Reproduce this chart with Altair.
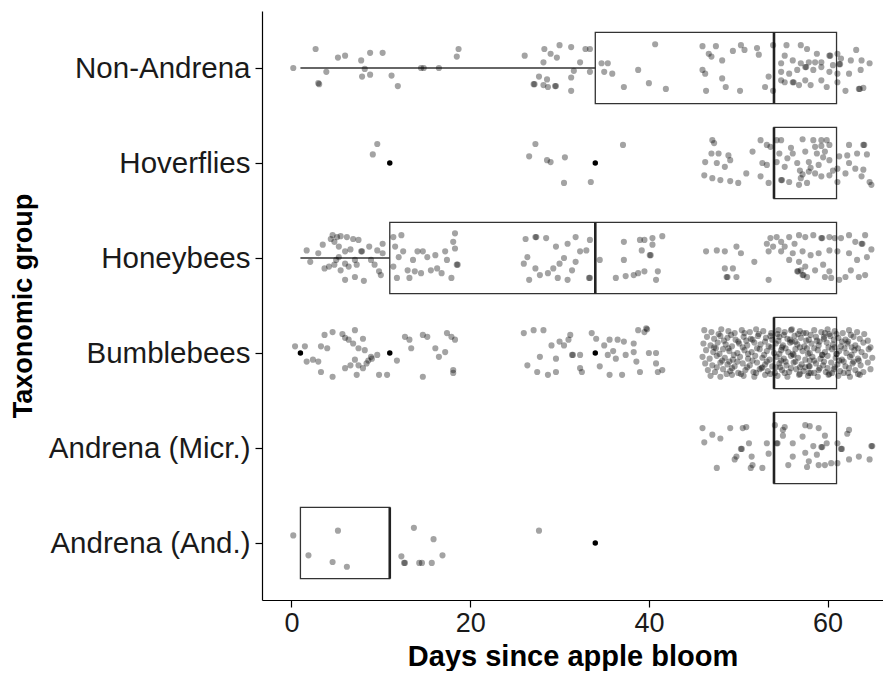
import altair as alt
import pandas as pd

# categories, bottom to top
groups = ["Andrena (And.)", "Andrena (Micr.)", "Bumblebees", "Honeybees", "Hoverflies", "Non-Andrena"]

# boxplot summaries (days since apple bloom)
box_lower = [1, 54, 54, 1, 54, 1]
box_q1 = [1, 54, 54, 11, 54, 34]
box_median = [11, 54, 54, 34, 54, 54]
box_q3 = [11, 61, 61, 61, 61, 61]
box_upper = [11, 61, 61, 61, 61, 61]

# outliers
outlier_group = ["Andrena (And.)", "Bumblebees", "Bumblebees", "Bumblebees", "Hoverflies", "Hoverflies"]
outlier_day = [34, 1, 11, 34, 11, 34]

x_ticks = [0, 20, 40, 60]

# jittered observations: (day, vertical jitter in category units)
non_andrena_pts = [
    (0.2, 0), (2.7, .20), (3.9, -.04), (3.0, -.16), (3.1, -.17), (5.2, .11), (6.0, .13), (7.8, .08),
    (8.8, .16), (10.2, .16), (8.2, -.01), (7.9, -.09), (8.8, -.07), (11.2, -.08), (11.9, -.19),
    (14.5, 0), (14.8, 0), (16.5, 0), (18.7, .20), (18.5, .12), (26.1, .13), (28.3, .20), (30.0, .24),
    (31.3, .22), (32.9, .20), (33.4, .20), (29.0, .15), (29.7, .11), (28.2, .06), (32.3, .06),
    (31.6, -.03), (33.4, -.04), (27.7, -.09), (28.6, -.12), (27.1, -.17), (27.2, -.17), (28.2, -.18),
    (28.7, -.20), (29.5, -.19), (29.6, -.19), (31.3, -.10), (31.3, -.24), (34.7, .05), (35.4, .05),
    (35.0, -.04), (35.9, -.06), (38.8, -.02), (37.2, -.20), (40.0, -.16), (40.7, .25), (41.9, -.22),
    (46.0, .23), (47.5, .23), (46.7, .15), (47.0, .12), (48.2, .08), (46.0, -.02), (46.3, -.06),
    (48.2, -.11), (48.6, -.20), (46.4, -.24), (50.2, -.24), (49.4, .18), (50.3, .24), (50.7, .19),
    (52.1, .21), (52.3, .14), (53.0, -.20), (53.4, -.09), (53.9, .24), (53.9, -.24),
    (55.4, .24), (57.0, .24), (57.7, .20), (55.2, .13), (56.1, .08), (54.8, .05), (57.0, .05),
    (57.9, .06), (58.6, .06), (60.2, .13), (60.3, .13), (61.1, .15), (61.5, .10), (62.6, .08),
    (63.2, .19), (63.8, .08), (64.7, .05), (61.3, .04), (61.4, .04), (54.8, -.04), (55.7, -.06),
    (56.6, -.02), (57.5, .01), (57.6, .01), (58.4, -.02), (59.3, .01), (60.2, -.04), (61.1, -.06),
    (62.4, -.06), (63.7, -.02), (55.2, -.15), (56.1, -.15), (56.2, -.15), (56.8, -.18), (57.5, -.13),
    (58.1, -.18), (59.3, -.13), (59.9, -.20), (61.1, -.15), (62.0, -.24), (63.5, -.22), (63.6, -.22),
    (64.0, -.21), (54.8, -.13), (58.8, .15), (59.3, .06), (60.6, .03),
]

hoverflies_pts = [
    (9.6, .20), (9.1, .09), (27.3, .20), (26.6, .07), (28.6, .03), (29.0, .01), (30.6, .06),
    (30.5, -.21), (33.5, -.20), (37.1, .19),
    (47.1, .24), (47.3, .21), (47.0, .10), (47.8, .10), (48.9, .08), (46.3, .01), (47.6, 0),
    (48.5, -.04), (49.1, .03), (46.2, -.13), (47.1, -.16), (48.0, -.18), (49.1, -.19), (50.0, -.21),
    (50.9, -.11), (51.6, .12), (52.5, .24), (53.2, .19), (52.7, 0), (53.2, -.02), (52.5, -.14),
    (53.4, -.21), (53.6, .17), (54.3, .24), (54.8, .24), (55.9, .16), (57.2, .25), (58.4, .24),
    (59.3, .24), (59.9, .24), (56.1, .10), (57.5, .12), (58.8, .10), (59.7, .12), (58.6, .17),
    (59.3, .18), (60.2, .19), (54.3, .01), (55.2, -.04), (56.6, 0), (57.9, .01), (59.0, -.02),
    (60.2, .03), (54.8, -.18), (54.9, -.18), (55.7, -.20), (57.0, -.16), (57.9, -.09), (58.6, -.11),
    (59.3, -.14), (60.2, -.13), (56.8, -.23), (57.7, -.21), (61.1, -.06), (61.1, -.20), (61.3, .07),
    (62.4, .19), (64.0, .19), (64.1, .19), (62.2, .08), (63.3, .10), (64.4, .09), (62.4, 0),
    (63.1, -.06), (64.0, -.07), (63.8, -.14), (64.7, -.20), (64.9, -.23), (62.0, -.11),
    (55.5, .05), (56.9, -.08), (58.1, -.05), (59.5, .06), (60.6, -.08), (54.6, .10), (57.2, -.12),
]

honeybees_pts = [
    (1.7, .08), (2.1, -.04), (3.0, .05), (3.5, .14), (3.7, -.11), (4.2, -.09), (4.6, .24), (5.1, .22),
    (5.5, .23), (6.2, .22), (6.9, .20), (7.5, .19), (4.8, .17), (5.3, .12), (6.0, .07), (6.6, .09),
    (5.3, .01), (6.0, -.06), (7.1, -.02), (7.8, .07), (7.9, .07), (4.8, -.07), (5.5, -.13), (6.4, -.09),
    (7.3, -.07), (6.0, -.23), (7.1, -.20), (8.1, -.24), (8.7, .12), (8.9, -.02), (9.3, -.07),
    (9.8, -.14), (10.2, .05), (10.0, -.18), (9.6, .08), (10.2, .15), (4.4, .20), (5.0, -.02),
    (11.4, .22), (12.3, .24), (11.6, .12), (12.0, .01), (12.5, .07), (11.4, -.09), (11.8, -.21),
    (13.2, -.21), (13.0, -.13), (13.6, -.02), (14.1, .07), (14.7, .07), (15.2, .01), (13.8, -.14),
    (14.5, -.16), (15.6, -.13), (16.3, -.11), (17.2, .07), (17.4, -.02), (18.3, .26), (18.1, .17),
    (18.3, .10), (18.5, -.07), (18.6, -.07), (16.1, .03), (16.8, -.16), (17.9, -.21),
    (26.2, .20), (27.3, .22), (27.4, .22), (28.5, .21), (26.4, .01), (26.0, -.06), (27.3, -.11),
    (27.8, -.18), (26.6, -.23), (28.7, -.16), (29.8, -.21), (30.9, -.23), (29.6, .12), (30.5, 0),
    (30.0, -.06), (29.3, -.11), (30.9, .15), (31.8, .22), (32.3, .07), (33.0, .08), (33.4, .19),
    (31.8, -.04), (31.4, -.13), (33.3, -.21), (33.4, -.21),
    (34.5, -.02), (36.3, -.21), (37.2, .17), (37.2, -.02), (37.4, -.19), (38.3, -.18), (39.0, .19),
    (39.5, .19), (40.4, .21), (41.5, .23), (39.2, .08), (40.1, .03), (40.2, .03), (40.4, .14),
    (38.8, -.16), (39.5, -.14), (41.0, -.14), (40.8, -.23),
    (46.4, .07), (47.6, .08), (48.5, .07), (49.8, .12), (50.3, .05), (48.5, -.11), (49.4, -.11),
    (48.7, -.20), (48.8, -.20), (49.8, -.20), (51.8, -.04), (53.4, -.23), (53.2, .15), (53.6, .21),
    (54.3, .22), (53.9, .12), (53.4, .07),
    (54.8, .17), (55.2, .12), (55.7, .22), (56.3, .15), (56.8, .24), (57.5, .22), (58.4, .24),
    (59.3, .21), (59.4, .21), (60.2, .22), (60.8, .21), (54.8, .07), (56.1, .05), (57.2, .07),
    (58.1, .03), (59.0, .05), (60.2, .08), (61.1, .07), (55.7, -.02), (56.8, -.04), (57.5, -.09),
    (58.6, -.13), (59.5, -.07), (60.2, -.14), (56.6, -.14), (56.7, -.14), (57.2, -.18), (57.3, -.18),
    (57.0, -.13), (57.7, -.20), (59.7, -.20), (60.4, -.21), (61.3, -.23), (61.5, .21), (62.4, .24),
    (63.1, .17), (63.8, .15), (63.9, .15), (64.2, .24), (64.9, .09), (64.4, .01), (63.3, -.02),
    (62.4, .05), (62.6, -.13), (63.5, -.20), (64.2, -.18), (62.0, -.20),
]

bumblebees_pts = [
    (0.4, .07), (1.5, .07), (1.7, -.09), (2.4, -.07), (3.0, -.09), (3.3, -.20), (4.6, -.25),
    (3.7, .19), (4.6, .22), (3.3, .07), (4.0, .05), (5.7, .20), (6.0, .16), (6.4, .14), (7.1, .24),
    (6.9, .10), (7.5, .05), (8.0, .15), (6.0, -.16), (6.6, -.13), (7.1, -.07), (7.3, -.23),
    (8.0, -.16), (8.4, -.11), (8.9, -.04), (9.6, -.02), (9.8, -.23), (10.7, -.23), (11.8, -.08),
    (8.2, .03), (7.5, -.13), (12.7, .17), (13.2, .14), (13.4, .05), (14.7, .19), (15.2, .17),
    (16.1, .05), (17.2, .01), (17.4, .21), (17.9, .17), (18.3, .14), (16.5, -.04), (14.7, -.25),
    (18.1, -.18), (18.1, -.21), (9.0, -.06), (8.6, -.08),
    (26.0, .21), (27.1, .24), (28.2, .24), (29.1, .08), (30.5, .08), (31.2, .19), (31.0, .14),
    (26.4, -.13), (27.8, -.04), (27.5, -.20), (28.7, -.23), (29.6, -.20), (29.6, -.06), (31.4, -.02),
    (31.5, -.02), (32.3, -.02), (32.3, -.16), (32.5, -.20), (33.6, .21), (34.1, .15), (35.0, .08),
    (35.6, .14), (36.5, .14), (37.2, .12), (38.3, .10), (38.8, .24), (39.5, .22), (39.7, .26),
    (39.8, .25), (35.4, -.02), (36.3, -.06), (37.4, -.02), (38.3, .01), (38.6, -.09), (40.0, 0),
    (40.8, -.11), (34.5, -.14), (35.6, -.23), (37.0, -.23), (39.0, -.20), (41.0, -.20), (41.5, -.18),
    (40.8, 0), (36.0, .02), (30.0, .12),
    # dense late-season cluster
    (46.2, .24), (47.0, .22), (48.1, .25), (48.9, .23), (49.6, .21), (50.4, .24), (51.3, .22),
    (52.0, .25), (52.8, .23), (53.7, .21), (54.5, .24), (55.2, .22), (56.0, .25), (56.9, .23),
    (57.6, .21), (58.5, .24), (59.3, .22), (60.0, .25), (60.8, .23), (61.7, .21), (62.4, .24),
    (63.3, .22), (64.1, .20),
    (46.5, .17), (47.3, .15), (48.0, .18), (48.8, .16), (49.7, .14), (50.6, .17), (51.4, .15),
    (52.2, .18), (53.1, .16), (53.8, .14), (54.6, .17), (55.5, .15), (56.3, .18), (57.0, .16),
    (57.9, .14), (58.7, .17), (59.6, .15), (60.3, .18), (61.2, .16), (62.0, .14), (62.9, .17),
    (63.6, .15), (64.5, .13),
    (46.1, .10), (46.9, .08), (47.7, .11), (48.6, .09), (49.3, .07), (50.1, .10), (51.0, .08),
    (51.8, .11), (52.5, .09), (53.4, .07), (54.2, .10), (55.0, .08), (55.8, .11), (56.6, .09),
    (57.4, .07), (58.2, .10), (59.0, .08), (59.9, .11), (60.6, .09), (61.5, .07), (62.2, .10),
    (63.1, .08), (64.0, .11), (64.8, .06),
    (46.4, .03), (47.2, .01), (48.3, .04), (49.0, .02), (49.9, .00), (50.7, .03), (51.5, .01),
    (52.4, .04), (53.2, .02), (54.0, .00), (54.8, .03), (55.6, .01), (56.4, .04), (57.2, .02),
    (58.0, .00), (58.9, .03), (59.7, .01), (60.5, .04), (61.3, .02), (62.1, .00), (63.0, .03),
    (63.8, .01), (64.6, .04),
    (46.0, -.04), (46.8, -.06), (47.6, -.03), (48.5, -.05), (49.4, -.07), (50.2, -.04), (51.1, -.06),
    (51.9, -.03), (52.7, -.05), (53.5, -.07), (54.3, -.04), (55.1, -.06), (55.9, -.03), (56.7, -.05),
    (57.5, -.07), (58.3, -.04), (59.2, -.06), (60.0, -.03), (60.9, -.05), (61.6, -.07), (62.5, -.04),
    (63.4, -.06), (64.2, -.03), (65.0, -.05),
    (46.3, -.11), (47.1, -.13), (48.0, -.10), (48.8, -.12), (49.6, -.14), (50.5, -.11), (51.3, -.13),
    (52.1, -.10), (53.0, -.12), (53.8, -.14), (54.6, -.11), (55.4, -.13), (56.2, -.10), (57.1, -.12),
    (57.9, -.14), (58.7, -.11), (59.5, -.13), (60.4, -.10), (61.1, -.12), (62.0, -.14), (62.8, -.11),
    (63.7, -.13), (64.5, -.10),
    (46.6, -.18), (47.4, -.20), (48.3, -.17), (49.1, -.19), (50.0, -.21), (50.8, -.18), (51.7, -.20),
    (52.4, -.17), (53.3, -.19), (54.1, -.21), (54.9, -.18), (55.7, -.20), (56.5, -.17), (57.3, -.19),
    (58.1, -.21), (59.0, -.18), (59.8, -.20), (60.7, -.17), (61.4, -.19), (62.3, -.21), (63.1, -.18),
    (64.0, -.20), (64.8, -.17),
    (46.9, -.24), (48.0, -.25), (49.3, -.23), (50.6, -.24), (51.8, -.25), (53.0, -.23), (54.4, -.24),
    (55.5, -.25), (56.8, -.23), (57.8, -.24), (58.9, -.25), (60.1, -.23), (61.2, -.24), (62.5, -.25),
    (63.6, -.23),
    (54.4, .20), (55.8, .14), (57.3, .21), (58.8, .13), (60.2, .20), (61.6, .12), (54.9, .06),
    (56.1, -.01), (57.7, .05), (59.4, -.02), (60.8, .06), (55.3, -.09), (56.9, -.15), (58.5, -.08),
    (60.0, -.16), (61.8, -.09), (54.7, -.15), (57.9, -.21), (59.6, .17), (56.4, .12), (61.0, -.01),
    (58.0, -.14), (55.9, .24), (60.5, -.21), (62.7, .06), (63.5, -.08), (47.5, .05), (49.0, -.09),
    (50.9, .13), (52.7, -.15),
    (47.8, .20), (49.2, .19), (50.7, .21), (52.3, .20), (53.6, .18), (55.1, .19), (56.7, .20),
    (58.1, .19), (59.7, .21), (61.0, .20), (62.6, .19), (48.4, .13), (50.0, .12), (51.6, .14),
    (53.0, .12), (54.5, .13), (56.0, .12), (57.6, .13), (59.1, .12), (60.7, .14), (62.3, .12),
    (47.3, .06), (48.9, .05), (50.5, .06), (52.1, .05), (53.7, .06), (55.3, .05), (56.9, .06),
    (58.5, .05), (60.1, .06), (61.9, .05), (63.4, .05), (47.9, -.01), (49.5, -.02), (51.1, -.01),
    (52.9, -.02), (54.6, -.01), (56.2, -.02), (57.8, -.01), (59.4, -.02), (61.0, -.01), (62.7, -.02),
    (48.2, -.08), (49.9, -.09), (51.6, -.08), (53.2, -.09), (54.8, -.08), (56.4, -.09), (58.0, -.08),
    (59.6, -.09), (61.3, -.08), (62.9, -.09), (47.6, -.15), (49.3, -.16), (51.0, -.15), (52.6, -.16),
    (54.2, -.15), (55.9, -.16), (57.5, -.15), (59.1, -.16), (60.8, -.15), (62.4, -.16), (48.7, -.22),
    (50.3, -.22), (52.0, -.21), (53.6, -.22), (55.2, -.21), (56.9, -.22), (58.5, -.21), (60.2, -.22),
    (61.8, -.21), (63.4, -.22),
]

andrena_micr_pts = [
    (46.0, .21), (47.1, .14), (48.0, .10), (49.1, .21), (50.5, .21), (50.9, .22), (46.2, .06),
    (47.6, -.21), (50.3, -.01), (50.4, -.01), (49.6, -.12), (49.8, -.09), (51.2, .05), (51.5, -.09),
    (51.6, -.18), (51.4, -.21), (52.7, -.21), (53.2, .05), (53.4, -.06),
    (54.1, .24), (54.3, .05), (54.4, .05), (55.0, .19), (55.0, .13), (55.2, .22), (56.1, .05),
    (57.5, .24), (58.0, .23), (59.0, .21), (57.2, .12), (58.4, .02), (59.7, .13), (59.3, .01),
    (59.4, .01), (59.9, .05), (56.1, -.09), (57.5, -.05), (58.8, -.07), (55.6, -.18), (57.7, -.20),
    (57.9, -.14), (59.0, -.18), (59.7, -.18), (60.4, -.16), (61.1, -.16), (61.1, .05), (61.5, -.01),
    (61.6, -.01), (62.2, .15), (62.4, .19), (62.4, -.12), (63.5, -.09), (64.7, -.12), (64.9, .02),
    (65.0, .02),
]

andrena_and_pts = [
    (0.2, .08), (1.9, -.13), (4.6, -.20), (5.2, .13), (6.2, -.25), (12.3, -.14), (12.6, -.21),
    (12.7, -.21), (13.7, .16), (14.3, -.21), (14.6, -.21), (15.7, -.21), (15.9, .04), (16.9, -.13),
    (27.7, .13),
]

points_by_group = {
    "Non-Andrena": non_andrena_pts,
    "Hoverflies": hoverflies_pts,
    "Honeybees": honeybees_pts,
    "Bumblebees": bumblebees_pts,
    "Andrena (Micr.)": andrena_micr_pts,
    "Andrena (And.)": andrena_and_pts,
}

idx = {g: i + 1 for i, g in enumerate(groups)}
BOX_HALF = 0.375

rows = []
for g, pts in points_by_group.items():
    for d, off in pts:
        rows.append({"group": g, "day": d, "y": idx[g] + off})
pts_df = pd.DataFrame(rows)

box_df = pd.DataFrame({
    "group": groups,
    "lower": box_lower, "q1": box_q1, "median": box_median, "q3": box_q3, "upper": box_upper,
})
box_df["yc"] = box_df["group"].map(idx)
box_df["ylo"] = box_df["yc"] - BOX_HALF
box_df["yhi"] = box_df["yc"] + BOX_HALF

out_df = pd.DataFrame({"group": outlier_group, "day": outlier_day})
out_df["y"] = out_df["group"].map(idx)

x_scale = alt.Scale(domain=[-3.3, 66.2], nice=False, zero=False)
y_scale = alt.Scale(domain=[0.4, 6.6], nice=False, zero=False)

label_js = "[''," + ",".join("'" + g + "'" for g in groups) + "][datum.value]"

x_axis = alt.Axis(values=x_ticks, title="Days since apple bloom", grid=False,
                  labelFontSize=27, titleFontSize=29, titleFontWeight="bold",
                  tickSize=7, labelPadding=3, titlePadding=6,
                  domainColor="black", tickColor="black", labelColor="#1a1a1a",
                  titleColor="black", domainWidth=1.2, tickWidth=1.2)
y_axis = alt.Axis(values=list(range(1, len(groups) + 1)), labelExpr=label_js,
                  title="Taxonomic group", grid=False, labelLimit=400,
                  labelFontSize=29.5, titleFontSize=27, titleFontWeight="bold",
                  tickSize=7, labelPadding=5, titlePadding=25,
                  domainColor="black", tickColor="black", labelColor="#1a1a1a",
                  titleColor="black", domainWidth=1.2, tickWidth=1.2)

X_T = "Days since apple bloom"
Y_T = "Taxonomic group"

boxes = alt.Chart(box_df).mark_rect(fill="white", stroke="#333333", strokeWidth=1.3).encode(
    x=alt.X("q1:Q", scale=x_scale, axis=x_axis, title=X_T),
    x2="q3:Q",
    y=alt.Y("ylo:Q", scale=y_scale, axis=y_axis, title=Y_T),
    y2="yhi:Q",
)

whisk_lo = alt.Chart(box_df).mark_rule(color="#333333", strokeWidth=1.3).encode(
    x=alt.X("lower:Q", scale=x_scale, title=X_T), x2="q1:Q",
    y=alt.Y("yc:Q", scale=y_scale, title=Y_T),
)
whisk_hi = alt.Chart(box_df).mark_rule(color="#333333", strokeWidth=1.3).encode(
    x=alt.X("q3:Q", scale=x_scale, title=X_T), x2="upper:Q",
    y=alt.Y("yc:Q", scale=y_scale, title=Y_T),
)
medians = alt.Chart(box_df).mark_rule(color="#222222", strokeWidth=2.6).encode(
    x=alt.X("median:Q", scale=x_scale, title=X_T),
    y=alt.Y("ylo:Q", scale=y_scale, title=Y_T), y2="yhi:Q",
)
outliers = alt.Chart(out_df).mark_circle(color="black", opacity=1, size=30).encode(
    x=alt.X("day:Q", scale=x_scale, title=X_T),
    y=alt.Y("y:Q", scale=y_scale, title=Y_T),
)
jitter = alt.Chart(pts_df).mark_circle(color="black", opacity=0.36, size=38).encode(
    x=alt.X("day:Q", scale=x_scale, title=X_T),
    y=alt.Y("y:Q", scale=y_scale, title=Y_T),
)

chart = alt.layer(boxes, whisk_lo, whisk_hi, medians, outliers, jitter).properties(
    width=621, height=589,
    padding={"left": 1, "top": 3, "right": 0, "bottom": 0},
).configure(font="Liberation Sans").configure_view(stroke=None)

chart.save("out.html", embed_options={"renderer": "svg", "actions": False})
